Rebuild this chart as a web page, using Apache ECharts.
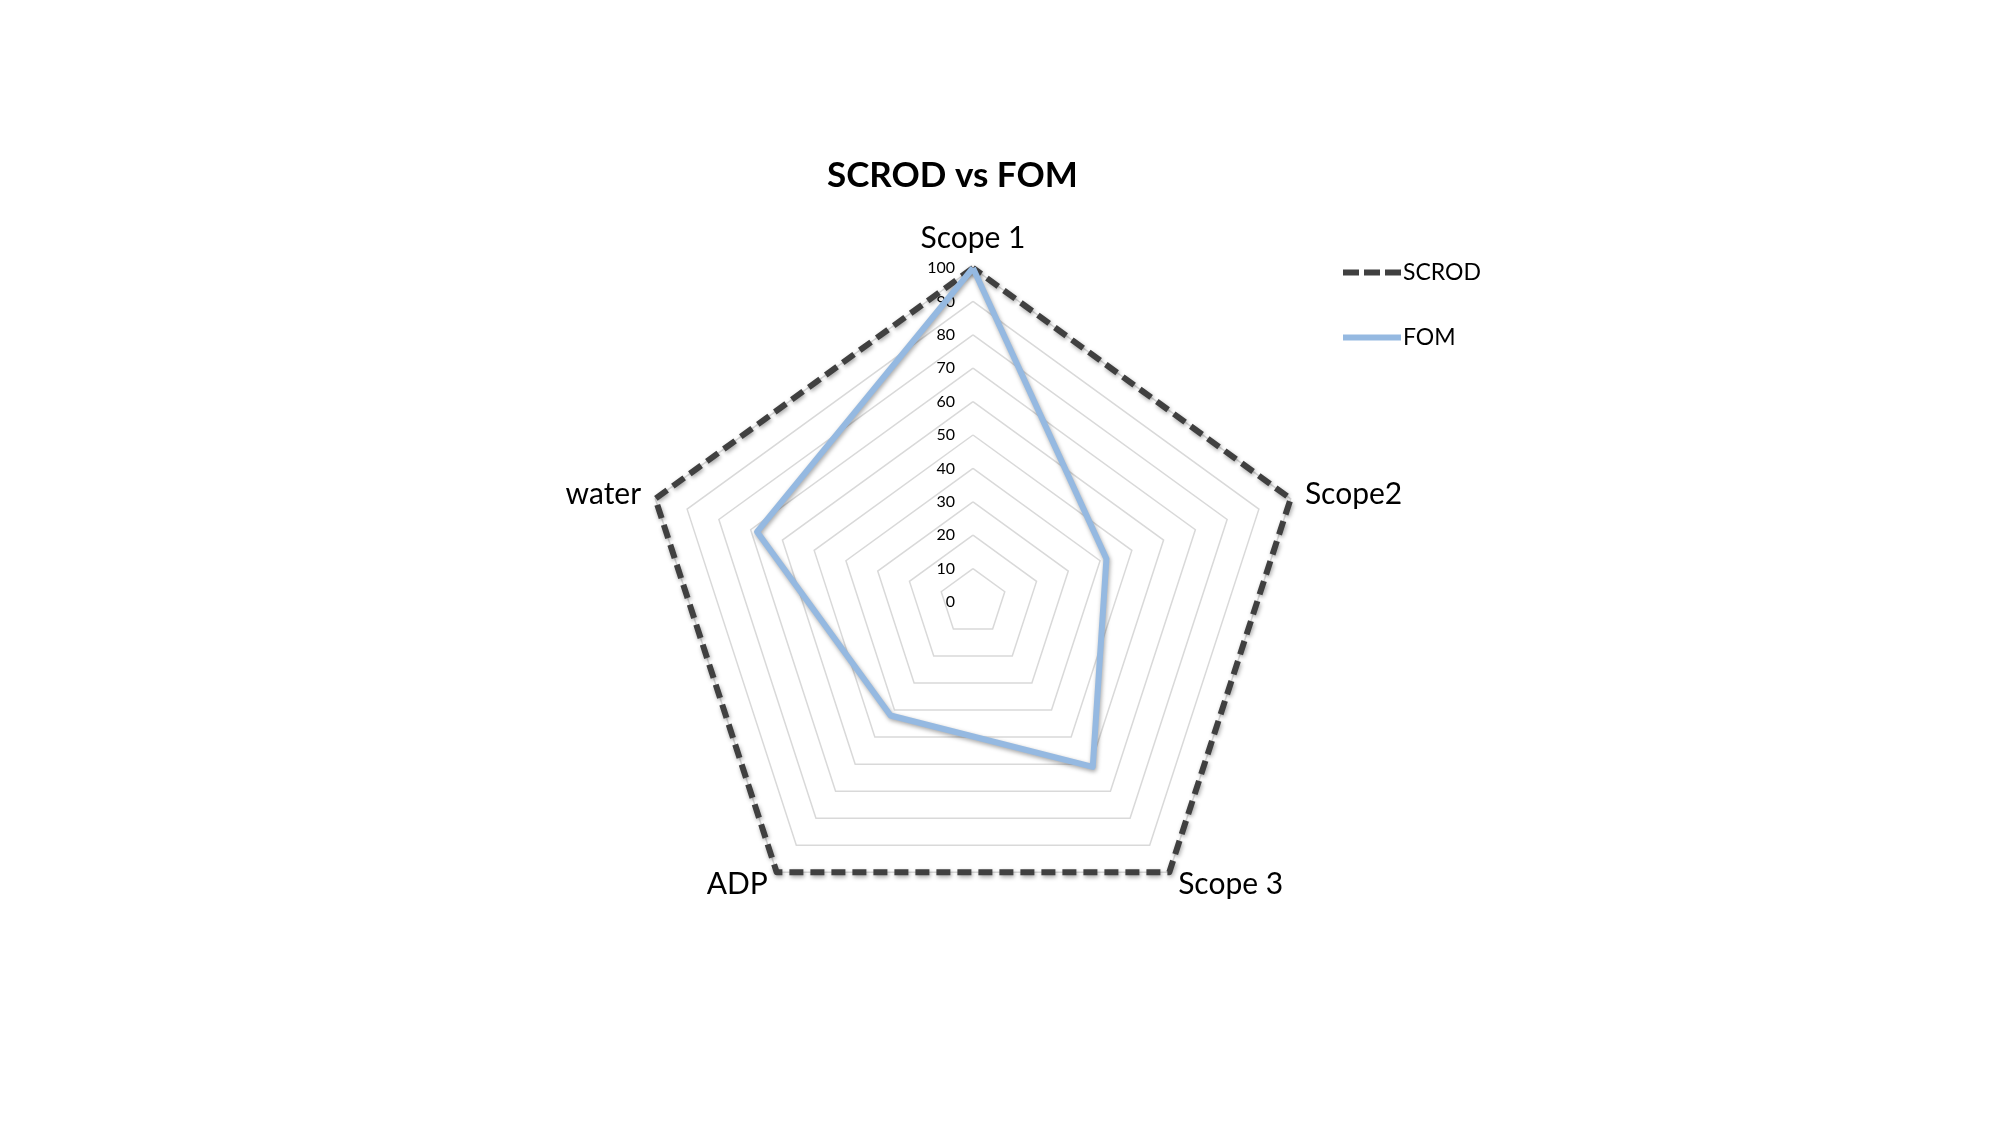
<!DOCTYPE html>
<html>
<head>
<meta charset="utf-8">
<script src="https://cdn.jsdelivr.net/npm/echarts@6/dist/echarts.min.js"></script>
<style>
  html, body { margin: 0; padding: 0; background: #fff; }
  #chart { width: 2000px; height: 1125px; }
</style>
</head>
<body>
<div id="chart"></div>
<script>
// 指标（按雷达图逆时针顺序，从顶部开始）
const indicatorNames = ['Scope 1', 'water', 'ADP', 'Scope 3', 'Scope2'];
const scrodValues = [100, 100, 100, 100, 100];
const fomValues = [100, 68, 42, 61, 42];
const axisMax = 100;

const chart = echarts.init(document.getElementById('chart'));

const fontFamily = 'Lato, "Open Sans", sans-serif';

const option = {
  backgroundColor: '#fff',
  title: {
    text: 'SCROD vs FOM',
    left: 822,
    top: 153,
    textStyle: {
      fontFamily: fontFamily,
      fontSize: 35,
      fontWeight: 'bold',
      color: '#000'
    }
  },
  legend: {
    orient: 'vertical',
    left: 1338,
    top: 256,
    itemWidth: 58,
    itemHeight: 6,
    itemGap: 42,
    textStyle: {
      fontFamily: fontFamily,
      fontSize: 23,
      color: '#000',
      padding: [0, 0, 0, -3]
    },
    data: [
      { name: 'SCROD', icon: 'path://M0,0h16v6h-16z M21,0h16v6h-16z M42,0h16v6h-16z' },
      { name: 'FOM', icon: 'path://M0,0h58v6h-58z' }
    ]
  },
  radar: {
    center: [973, 602],
    radius: 334,
    startAngle: 90,
    splitNumber: 10,
    shape: 'polygon',
    nameGap: 15,
    axisName: {
      color: '#000',
      fontFamily: fontFamily,
      fontSize: 30
    },
    axisLine: { show: false },
    axisTick: { show: false },
    splitArea: { show: false },
    splitLine: {
      lineStyle: { color: '#d9d9d9', width: 1.5 }
    },
    axisLabel: { show: false },
    indicator: indicatorNames.map(function (name, i) {
      const item = { name: name, min: 0, max: axisMax };
      if (i === 0) {
        // 只在第一条轴上显示刻度
        item.axisLabel = {
          show: true,
          color: '#000',
          fontFamily: fontFamily,
          fontSize: 16,
          margin: 18
        };
      }
      return item;
    })
  },
  series: [
    {
      name: 'SCROD',
      type: 'radar',
      symbol: 'none',
      color: '#404040',
      lineStyle: {
        color: '#404040',
        width: 6,
        type: [14, 7],
        shadowColor: 'rgba(0,0,0,0.35)',
        shadowBlur: 4,
        shadowOffsetX: 1,
        shadowOffsetY: 2
      },
      data: [{ value: scrodValues, name: 'SCROD' }]
    },
    {
      name: 'FOM',
      type: 'radar',
      symbol: 'none',
      color: '#95B9E1',
      lineStyle: {
        color: '#95B9E1',
        width: 6,
        shadowColor: 'rgba(0,0,0,0.35)',
        shadowBlur: 4,
        shadowOffsetX: 1,
        shadowOffsetY: 2
      },
      data: [{ value: fomValues, name: 'FOM' }]
    }
  ]
};

chart.setOption(option);
</script>
</body>
</html>
